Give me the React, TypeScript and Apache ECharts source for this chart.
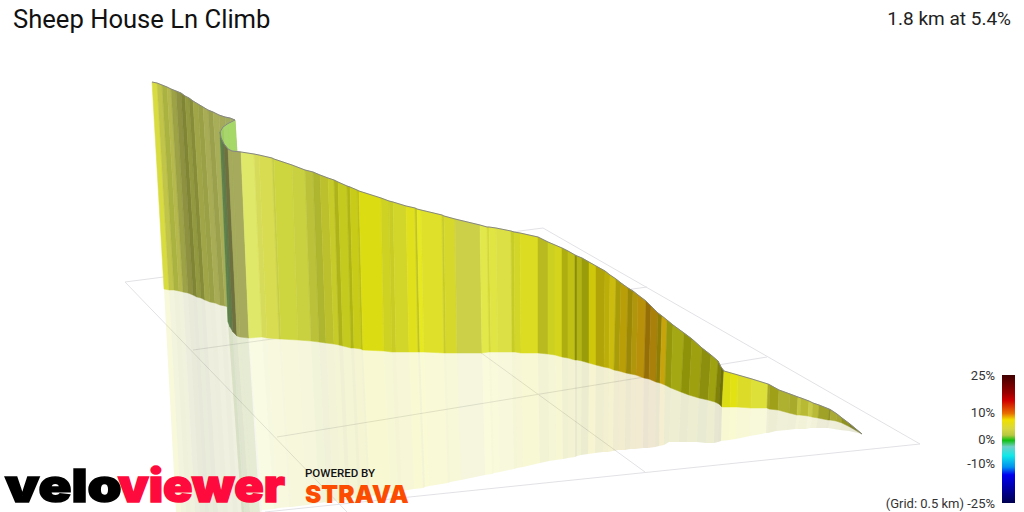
import React, { useEffect, useRef } from "react";
import * as echarts from "echarts";

const titleText = "Sheep House Ln Climb";
const summaryText = "1.8 km at 5.4%";
const scaleLabels = ["25%", "10%", "0%", "-10%", "(Grid: 0.5 km) -25%"];
const scaleLabelY = [375, 412.5, 439, 463, 503];

const topX = [152,157,162,167,171,176,181,185,189,193,198,203,208,213,219,225,230,235,228,223,220,221,224,228,232,241,254,259,272,274,292,305,313,320,328,334,338,347,350,357,359,381,389,393,406,415,417,421,442,444,455,480,487,489,496,511,514,520,538,548,555,562,568,575,577,582,589,596,605,610,616,621,628,633,638,646,651,658,662,667,673,684,692,702,711,718,721,724,731,738,752,768,770,779,790,798,801,809,813,819,829,831,837,842,850,862];
const topY = [82,83,85,87,89,91,93,96,98,101,104,107,110,112,115,117,118,120,123.5,127,132,138,144,149,151,152,154,155,158,159,165,170,172,175,178,180,182,186,187,190,191,198,201,202,206,208,209,210,215,216,219,225,227,227,228,231,232,233,237,242,245,248,251,255,256,258,262,266,271,275,279,283,288,291,295,301,306,313,316,320,325,333,339,348,355,361,367,371,373,375,379,384,385,390,394,397,398,401,403,405,409,410,414,418,424,434];
const baseX = [164,169,174,179,183,188,193,197,201,205,210,215,220,225,231,237,242,247,240,233,228,230,233,237,240,249,262,267,279,281,298,311,319,326,334,339,343,351,354,361,363,384,392,396,409,418,420,424,444,446,457,482,489,491,498,512,515,521,538,548,555,562,568,575,577,582,589,596,604,609,614,619,626,631,636,644,649,656,660,665,671,681,689,699,708,715,719,722,730,737,751,767,769,778,789,797,800,808,812,818,828,830,836,842,850,862];
const baseY = [289,290,290,291,292,293,295,297,298,300,302,303,305,306,308,310,312,318,320,321,322,327,332,336,337,338,337,338,339,339,340,341,342,343,344,345,346,348,348,349,350,351,352,352,352,352,352,352,353,353,353,353,352,352,352,352,352,353,353,354,355,357,358,360,360,361,363,365,367,368,370,371,373,374,375,378,379,382,383,385,388,392,395,398,400,402,404,407,407,407,408,408,409,410,413,415,415,416,417,418,420,420,421,423,427,434];
const mirrorX = [177,182,187,192,196,201,206,210,214,219,224,229,234,239,245,251,256,261,254,247,243,245,247,251,254,262,274,278,289,291,307,319,327,333,341,346,350,358,361,368,370,391,398,402,414,423,425,429,448,450,461,485,492,494,500,514,517,523,540,549,556,563,568,575,577,581,588,595,603,608,613,618,625,630,635,643,648,655,659,664,669,679,687,697,706,714,718,721,729,736,750,766,768,776,787,795,798,806,810,816,826,828,834,840,849,862];
const mirrorY = [530,530,530,530,530,530,530,530,530,530,530,530,530,530,530,530,530,530,530,530,530,530,530,530,530,510,509,508,507,507,505,503,502,501,500,500,499,498,498,497,496,493,492,491,489,488,487,486,483,482,480,475,474,473,472,469,468,467,463,461,460,459,458,457,456,455,454,453,452,452,451,450,450,449,449,448,448,447,446,445,442,442,442,442,443,443,442,441,440,439,436,433,433,431,430,429,429,429,428,428,428,428,429,430,431,434];
const stripColors = ["#d8dc40","#c0c448","#aab240","#b5b84c","#9ca245","#8e9240","#7f8535","#92993f","#868c38","#a0a648","#9aa045","#a8ad55","#9aa04c","#a8ae58","#a4aa58","#a2ac60","#a2ac60","#a6d868","#a8d66c","#9ccc60","#5f8250","#5f7c4a","#6e7040","#a6aa5c","#a6aa5c","#dfe868","#d6dc5a","#d8dc50","#c8cf48","#ced63f","#c9d140","#bbc23a","#aeb52e","#bcc02c","#c6cb2a","#aeb31a","#c4ca1e","#b0b516","#c8cc18","#bcc016","#dcdc12","#ced222","#c8cc24","#d2d62a","#e0e01c","#c0c424","#e6e820","#dee02a","#c8cc2c","#d6d82c","#ccd048","#e2e84a","#d4d838","#e0e544","#dce044","#c8cc28","#d2d628","#dcdc22","#b8ba20","#ccd020","#d4d41c","#aeae10","#c0c014","#8a8c0c","#b2b414","#9a9c0a","#cfc70a","#b0a408","#bcae08","#cabb0e","#a89c08","#ba9e08","#9a8806","#b0960a","#b8900a","#966e08","#a8800a","#8e7e06","#c8a40c","#94980a","#a4a812","#8e9208","#9ea010","#8c8e0e","#9ea210","#808208","#6e7008","#dcdc14","#e2e212","#dcdc28","#dce038","#a8a828","#9fa018","#aeb030","#a8aa2c","#c4c640","#b8ba34","#c8ca48","#b8ba38","#a0a228","#8e9020","#a8aa34","#a4a430","#8e9020","#7e8028"];

const gridLineX0 = [125,125,193,277,345,543,920];
const gridLineY0 = [282,282,350,437,254,228,444];
const gridLineX1 = [543,347,647,767,645,920,265];
const gridLineY1 = [228,512,287,357,472,444,512];

const scaleStops = ["#400000","#990000","#d00000","#e87000","#f0e000","#d8d840","#b8c840","#10c010","#70d0c8","#10e8e8","#0090f0","#0000f0","#0000b0","#000050"];
const scaleOffsets = [0,0.14,0.2,0.3,0.35,0.42,0.47,0.51,0.56,0.63,0.72,0.78,0.87,1];

const font = "Roboto";

function stripRenderer(lowerX: number[], lowerY: number[], upperX: number[], upperY: number[], opacityOf: (i: number) => number, edge: boolean) {
  return (params: any, api: any) => {
    const i = params.dataIndex;
    const pts = [
      api.coord([upperX[i], upperY[i]]),
      api.coord([upperX[i + 1], upperY[i + 1]]),
      api.coord([lowerX[i + 1], lowerY[i + 1]]),
      api.coord([lowerX[i], lowerY[i]]),
    ];
    return {
      type: "polygon",
      shape: { points: pts },
      style: {
        fill: stripColors[i],
        opacity: opacityOf(i),
        stroke: edge ? stripColors[i] : "none",
        lineWidth: edge ? 0.5 : 0,
      },
    };
  };
}

const mirrorOpacity = (i: number) => (i >= 14 && i <= 24 ? 0.1 : 0.19);

export default function App() {
  const ref = useRef<HTMLDivElement>(null);
  useEffect(() => {
    document.body.style.margin = "0";
    const chart = echarts.init(ref.current!, undefined, { renderer: "svg" });
    const stripData = stripColors.map((_, i) => [topX[i], topY[i]]);

    const labels = scaleLabels.map((t, i) => ({
      type: "text",
      z: 100,
      x: 995,
      y: scaleLabelY[i],
      style: { text: t, font: `13px ${font}`, fill: "#333", textAlign: "right", textVerticalAlign: "middle" },
    }));

    chart.setOption({
      animation: false,
      backgroundColor: "#fff",
      title: [
        { text: titleText, left: 13, top: 6, padding: 0, textStyle: { fontFamily: font, fontSize: 25.6, fontWeight: 400, color: "#111" } },
        { text: summaryText, right: 13, top: 9, padding: 0, textStyle: { fontFamily: font, fontSize: 19, fontWeight: 400, color: "#222" } },
      ],
      grid: { left: 0, right: 0, top: 0, bottom: 0 },
      xAxis: { type: "value", min: 0, max: 1024, show: false },
      yAxis: { type: "value", min: 0, max: 512, inverse: true, show: false },
      series: [
        {
          type: "custom",
          silent: true,
          clip: false,
          data: gridLineX0.map((x, i) => [x, gridLineY0[i]]),
          encode: { x: 0, y: 1 },
          renderItem: (params: any, api: any) => {
            const i = params.dataIndex;
            const a = api.coord([gridLineX0[i], gridLineY0[i]]);
            const b = api.coord([gridLineX1[i], gridLineY1[i]]);
            return {
              type: "line",
              shape: { x1: a[0], y1: a[1], x2: b[0], y2: b[1] },
              style: { stroke: "#e2e2e6", lineWidth: 1 },
            };
          },
          z: 1,
        },
        {
          type: "custom",
          silent: true,
          clip: false,
          data: stripData,
          encode: { x: 0, y: 1 },
          renderItem: stripRenderer(mirrorX, mirrorY, baseX, baseY, mirrorOpacity, false),
          z: 2,
        },
        {
          type: "custom",
          silent: true,
          clip: false,
          data: stripData,
          encode: { x: 0, y: 1 },
          renderItem: stripRenderer(baseX, baseY, topX, topY, () => 1, true),
          z: 3,
        },
        {
          type: "line",
          silent: true,
          symbol: "none",
          data: topX.map((x, i) => [x, topY[i]]),
          lineStyle: { color: "#868686", width: 1 },
          z: 4,
        },
      ],
      graphic: [
        {
          type: "rect",
          z: 100,
          shape: { x: 1002, y: 375, width: 13, height: 128 },
          style: {
            fill: new echarts.graphic.LinearGradient(0, 0, 0, 1, scaleStops.map((color, i) => ({ offset: scaleOffsets[i], color }))),
          },
        },
        ...labels,
        {
          type: "text", z: 100, x: 5, y: 508, scaleX: 1.21,
          style: { text: "velo", font: `900 45px Inter`, fill: "#000", stroke: "#000", lineWidth: 1.5, textAlign: "left", textVerticalAlign: "bottom" },
        },
        {
          type: "text", z: 100, x: 118, y: 508, scaleX: 1.08,
          style: { text: "viewer", font: `900 45px Inter`, fill: "#ff0a3c", stroke: "#ff0a3c", lineWidth: 1.5, textAlign: "left", textVerticalAlign: "bottom" },
        },
        {
          type: "text", z: 100, x: 305, y: 473.5, scaleX: 1.1,
          style: { text: "POWERED BY", font: `500 10.5px ${font}`, fill: "#111", textAlign: "left", textVerticalAlign: "middle" },
        },
        {
          type: "text", z: 100, x: 305, y: 494, scaleX: 0.98,
          style: { text: "STRAVA", font: `900 25px Inter`, fill: "#fc4c02", textAlign: "left", textVerticalAlign: "middle" },
        },
      ],
    });
    return () => chart.dispose();
  }, []);
  return <div ref={ref} style={{ width: 1024, height: 512 }} />;
}
